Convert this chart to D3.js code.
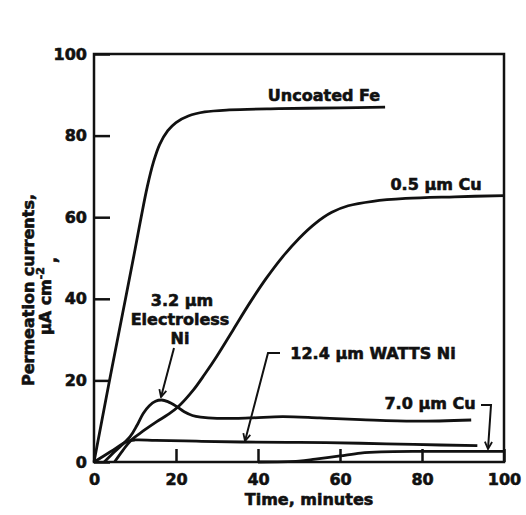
<!DOCTYPE html>
<html>
<head>
<meta charset="utf-8">
<script src="https://cdn.jsdelivr.net/npm/d3@7"></script>
<style>
  body { margin: 0; background: #fff; }
  svg text { font-family: 'DejaVu Sans', sans-serif; font-weight: bold; fill: #111; stroke: #111; stroke-width: 0.6; }
</style>
</head>
<body>
<svg id="chart" width="526" height="515"></svg>
<script>
// values: [time (min), current (uA cm^-2)]
const uncoatedFe = [[0, 0], [3.5, 18.5], [7, 36.5], [10, 52], [11.5, 60], [13, 67.5], [14.5, 73.5],
  [16, 77.8], [18, 81.2], [20, 83.2], [23, 84.8], [27, 85.8], [33, 86.3], [45, 86.6], [60, 86.8], [71, 87]]
const cu05 = [[5, 0], [7, 2.8], [9, 5.3], [12, 7.6], [15.3, 9.9], [18, 11.6], [20.6, 13.6], [24.2, 17.6],
  [27, 21.5], [30, 26], [34, 32.5], [38, 39], [42, 45], [46, 50.3], [50, 54.8], [54, 58.5],
  [58, 61.2], [62, 62.8], [68, 63.9], [76, 64.6], [88, 65], [100, 65.3]]
const electrolessNi = [[2.5, 0], [5, 2.5], [8.8, 6.2], [10.5, 9], [12, 11.9], [13.5, 13.8], [15, 14.9],
  [16.5, 15.2], [18, 14.8], [20, 13.7], [22, 12.3], [24, 11.4], [26, 11], [30, 10.7], [38, 10.8],
  [46, 11.1], [55, 10.8], [65, 10.4], [78, 10], [92, 10.3]]
const wattsNi = [[0, 0], [4, 2.5], [8, 5], [10, 5.4], [15, 5.3], [25, 5.1], [36, 4.9], [50, 4.8],
  [65, 4.6], [78, 4.3], [93.5, 4.0]]
const cu70 = [[40, 0], [50, 0.2], [54, 0.7], [60, 1.5], [65, 2.2], [70, 2.5], [80, 2.6], [90, 2.6], [100, 2.6]]

const xTicks = [0, 20, 40, 60, 80, 100]
const yTicks = [0, 20, 40, 60, 80, 100]

const svg = d3.select('#chart')
const x = d3.scaleLinear().domain([0, 100]).range([94, 504])
const y = d3.scaleLinear().domain([0, 100]).range([462, 54])

// axes with inward ticks
const gx = svg.append('g')
  .attr('transform', 'translate(0,' + y(0) + ')')
  .call(d3.axisBottom(x).tickValues(xTicks).tickSize(-13).tickPadding(12).tickFormat(d3.format('d')))
const gy = svg.append('g')
  .attr('transform', 'translate(' + x(0) + ',0)')
  .call(d3.axisLeft(y).tickValues(yTicks).tickSize(-16).tickPadding(7).tickFormat(d3.format('d')))

for (const g of [gx, gy]) {
  g.select('.domain').remove()
  g.selectAll('line').attr('stroke', '#111').attr('stroke-width', 2.5)
  g.selectAll('text').attr('font-size', 16).attr('font-family', null)
}

svg.append('rect')
  .attr('x', x(0)).attr('y', y(100))
  .attr('width', x(100) - x(0)).attr('height', y(0) - y(100))
  .attr('fill', 'none').attr('stroke', '#111').attr('stroke-width', 2.5)

// curves
const line = d3.line()
  .x(d => x(d[0]))
  .y(d => y(d[1]))
  .curve(d3.curveCatmullRom.alpha(0.5))

for (const s of [uncoatedFe, cu05, electrolessNi, wattsNi, cu70]) {
  svg.append('path')
    .datum(s)
    .attr('d', line)
    .attr('fill', 'none')
    .attr('stroke', '#111')
    .attr('stroke-width', 2.8)
    .attr('stroke-linejoin', 'round')
}

// axis titles
svg.append('text')
  .attr('x', x(50) + 10).attr('y', 505)
  .attr('text-anchor', 'middle').attr('font-size', 16)
  .text('Time, minutes')

const yt = svg.append('g').attr('transform', 'translate(0,290) rotate(-90)')
yt.append('text').attr('x', 0).attr('y', 34)
  .attr('text-anchor', 'middle').attr('font-size', 16)
  .text('Permeation currents,')
const yt2 = yt.append('text').attr('x', -6).attr('y', 51)
  .attr('text-anchor', 'middle').attr('font-size', 16)
yt2.append('tspan').text('\u03bcA cm')
yt2.append('tspan').attr('dy', -7).attr('font-size', 11).text('-2')
yt2.append('tspan').attr('dy', 13).attr('dx', 4).text(',')

// curve labels
const labels = [
  { t: 'Uncoated Fe', x: 324, y: 101 },
  { t: '0.5 \u03bcm Cu', x: 436, y: 190 },
  { t: '3.2 \u03bcm', x: 182, y: 306 },
  { t: 'Electroless', x: 180, y: 325 },
  { t: 'Ni', x: 180, y: 344 },
  { t: '12.4 \u03bcm WATTS Ni', x: 373, y: 359 },
  { t: '7.0 \u03bcm Cu', x: 430, y: 409 }
]
svg.selectAll('text.lbl')
  .data(labels)
  .enter()
  .append('text')
  .attr('class', 'lbl')
  .attr('x', d => d.x).attr('y', d => d.y)
  .attr('text-anchor', 'middle').attr('font-size', 16)
  .text(d => d.t)

// pointers
svg.append('defs').append('marker')
  .attr('id', 'arr')
  .attr('viewBox', '0 0 10 10').attr('refX', 9).attr('refY', 5)
  .attr('markerWidth', 9).attr('markerHeight', 9)
  .attr('orient', 'auto').attr('markerUnits', 'userSpaceOnUse')
  .append('path')
  .attr('d', 'M1,1 L9,5 L1,9')
  .attr('fill', 'none').attr('stroke', '#111').attr('stroke-width', 2)

const pointers = [
  [[174, 348], [161, 397]],
  [[280, 353], [268, 353], [245, 441]],
  [[481, 405], [491, 405], [488, 449]]
]
for (const p of pointers) {
  svg.append('path')
    .attr('d', d3.line()(p))
    .attr('fill', 'none').attr('stroke', '#111').attr('stroke-width', 2)
    .attr('marker-end', 'url(#arr)')
}
</script>
</body>
</html>
